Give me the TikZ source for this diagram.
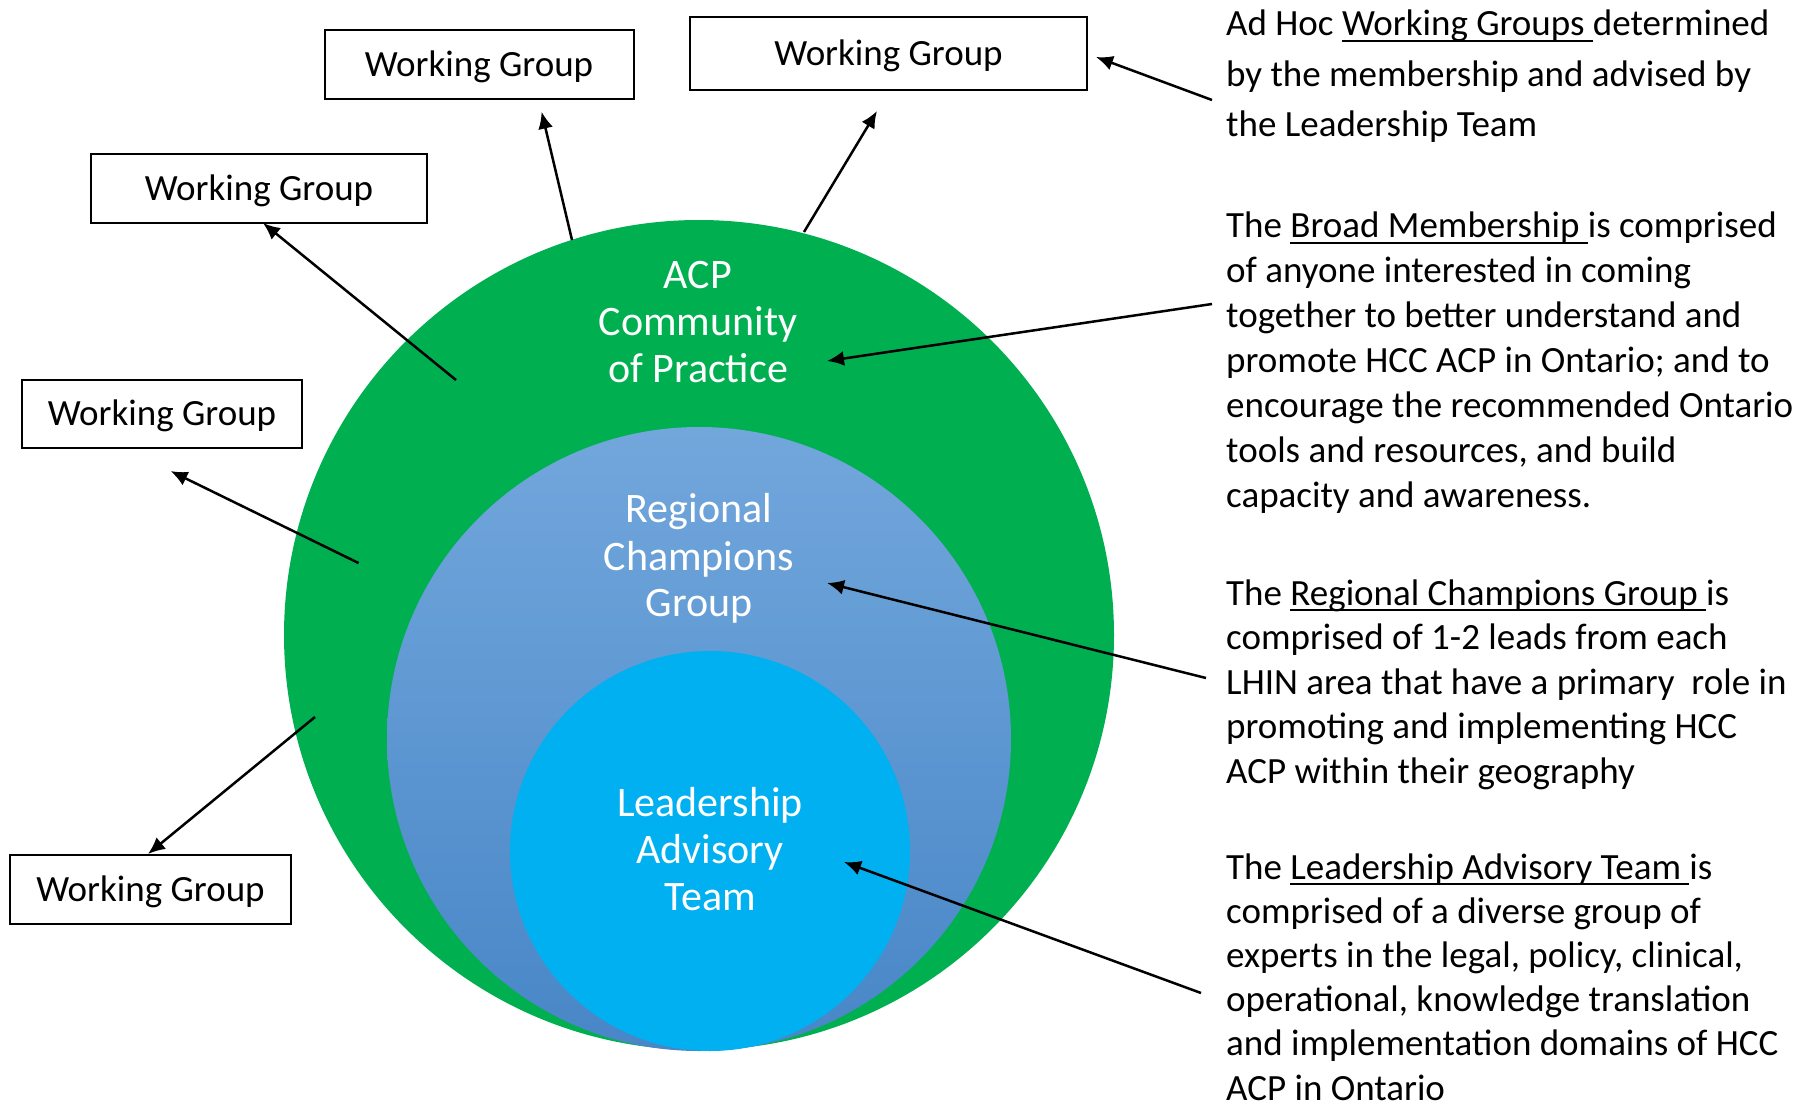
\documentclass[tikz,border=0pt]{standalone}
\usepackage{fontspec}
\setmainfont{Carlito}
\usetikzlibrary{arrows.meta}
\definecolor{acpgreen}{HTML}{00B050}
\definecolor{rctop}{HTML}{72A7DC}
\definecolor{rcbot}{HTML}{4886C7}
\definecolor{latblue}{HTML}{00B0F0}
\newcommand\ulx[1]{\setbox0\hbox{#1}\rlap{\rule[-0.17em]{\wd0}{0.06em}}\box0}
\begin{document}
\begin{tikzpicture}[x=1pt,y=-1pt,
  wgbox/.style={draw=black, line width=2pt, inner sep=0pt, text height=28pt, text depth=4pt,
    font=\fontsize{37}{44}\selectfont},
  circlab/.style={text=white, anchor=base, inner sep=0pt, font=\fontsize{42}{47}\selectfont},
  desc/.style={anchor=base west, inner sep=0pt, font=\fontsize{37}{45}\selectfont},
  arr/.style={draw=black, line width=2.5pt, -{Latex[length=17pt,width=15pt]}}]
\fill[white] (0,0) rectangle (1802,1105);
\useasboundingbox (0,0) rectangle (1802,1105);

% circles
\node[circle, fill=acpgreen, minimum size=830pt, inner sep=0pt] (acp) at (699,635) {};
\node[circle, top color=rctop, bottom color=rcbot, minimum size=624pt, inner sep=0pt] (rc) at (699,739) {};
\node[circle, fill=latblue, minimum size=400pt, inner sep=0pt] (lat) at (710,851) {};

% circle labels
\node[circlab] (acp1) at (698,288) {ACP};
\node[circlab] (acp2) at (698,335) {Community};
\node[circlab] (acp3) at (698,382) {of Practice};
\node[circlab] (rc1) at (699,522) {Regional};
\node[circlab] (rc2) at (699,570) {Champions};
\node[circlab] (rc3) at (699,616) {Group};
\node[circlab] (lat1) at (710,816) {Leadership};
\node[circlab] (lat2) at (710,863) {Advisory};
\node[circlab] (lat3) at (710,910) {Team};

% working group boxes
\node[wgbox, minimum width=309pt, minimum height=69pt] (wg1) at (479,64.5) {Working Group};
\node[wgbox, minimum width=397pt, minimum height=73pt] (wg2) at (888.5,53.5) {Working Group};
\node[wgbox, minimum width=336pt, minimum height=69pt] (wg3) at (259,188.5) {Working Group};
\node[wgbox, minimum width=280pt, minimum height=68pt] (wg4) at (162,413.5) {Working Group};
\node[wgbox, minimum width=281pt, minimum height=69pt] (wg5) at (150.5,889.5) {Working Group};

% arrow end points
\coordinate (s1) at (572,240);   \coordinate (t1) at (541.6,111.7);
\coordinate (s2) at (804,232);   \coordinate (t2) at (877,111);
\coordinate (s3) at (456,380);   \coordinate (t3) at (263,223);
\coordinate (s4) at (358.5,563); \coordinate (t4) at (170.5,471);
\coordinate (s5) at (315,717);   \coordinate (t5) at (148,854);
\coordinate (r1) at (1212,100);  \coordinate (u1) at (1096,57);
\coordinate (r2) at (1212,304);  \coordinate (u2) at (827,361);
\coordinate (r3) at (1206,678);  \coordinate (u3) at (827,583);
\coordinate (r4) at (1201,993);  \coordinate (u4) at (844,862);

\draw[arr] (s1) -- (t1);
\draw[arr] (s2) -- (t2);
\draw[arr] (s3) -- (t3);
\draw[arr] (s4) -- (t4);
\draw[arr] (s5) -- (t5);
\draw[arr] (r1) -- (u1);
\draw[arr] (r2) -- (u2);
\draw[arr] (r3) -- (u3);
\draw[arr] (r4) -- (u4);

% descriptions
\node[desc] (a1) at (1226,36) {Ad Hoc \ulx{Working Groups\ }determined};
\node[desc] (a2) at (1226,86.5) {by the membership and advised by};
\node[desc] (a3) at (1226,137) {the Leadership Team};

\node[desc] (b1) at (1226,237.5) {The \ulx{Broad Membership\ }is comprised};
\node[desc] (b2) at (1226,282.5) {of anyone interested in coming};
\node[desc] (b3) at (1226,327.5) {together to better understand and};
\node[desc] (b4) at (1226,372.5) {promote HCC ACP in Ontario; and to};
\node[desc] (b5) at (1226,417.5) {encourage the recommended Ontario};
\node[desc] (b6) at (1226,462.5) {tools and resources, and build};
\node[desc] (b7) at (1226,507.5) {capacity and awareness.};

\node[desc] (c1) at (1226,605) {The \ulx{Regional Champions Group\ }is};
\node[desc] (c2) at (1226,649.5) {comprised of 1-2 leads from each};
\node[desc] (c3) at (1226,694) {LHIN area that have a primary\ \ role in};
\node[desc] (c4) at (1226,738.5) {promoting and implementing HCC};
\node[desc] (c5) at (1226,783) {ACP within their geography};

\node[desc] (d1) at (1226,879) {The \ulx{Leadership Advisory Team\ }is};
\node[desc] (d2) at (1226,923.2) {comprised of a diverse group of};
\node[desc] (d3) at (1226,967.4) {experts in the legal, policy, clinical,};
\node[desc] (d4) at (1226,1011.6) {operational, knowledge translation};
\node[desc] (d5) at (1226,1055.8) {and implementation domains of HCC};
\node[desc] (d6) at (1226,1100) {ACP in Ontario};
\end{tikzpicture}
\end{document}
